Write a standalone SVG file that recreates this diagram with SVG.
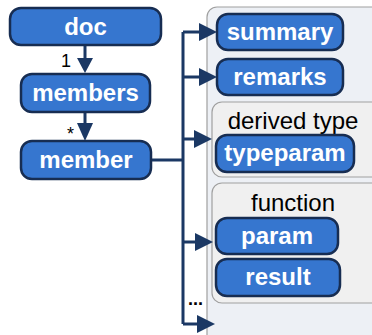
<svg xmlns="http://www.w3.org/2000/svg" width="372" height="335" viewBox="0 0 372 335">
<defs>
<style>
.n{fill:#3676cf;stroke:#172d52;stroke-width:2.5}
.t{font-family:"Liberation Sans",Arial,sans-serif;font-weight:bold;font-size:24px;fill:#fff;text-anchor:middle}
.g{fill:#f0f0f0;stroke:#a0a0a0;stroke-width:1.2}
.gt{font-family:"Liberation Sans",Arial,sans-serif;font-size:24px;fill:#000;text-anchor:middle}
.c{fill:none;stroke:#1b3864;stroke-width:3}
.l{font-family:"Liberation Sans",Arial,sans-serif;font-size:18px;fill:#000}
</style>
</defs>
<rect x="207" y="7" width="180" height="340" rx="10" fill="#edf0f5" stroke="#a0a0a0" stroke-width="1.2"/>
<g id="grp-derived"><rect class="g" x="212" y="102" width="170" height="75" rx="10"/><text class="gt" x="293" y="129">derived type</text></g>
<g id="grp-function"><rect class="g" x="212" y="183" width="170" height="120" rx="10"/><text class="gt" x="293" y="211">function</text></g>
<g id="connectors">
<path class="c" d="M85,45V60"/>
<path d="M77,58L85,73L93,58z" fill="#1b3864"/>
<path class="c" d="M85,113V125"/>
<path d="M77,123L85,141L93,123z" fill="#1b3864"/>
<path class="c" d="M151,160H183M183,32V324M183,32H202M183,77H202M183,139H198M183,242H198M183,324H200"/>
<path d="M199,23L217,32L199,41z" fill="#1b3864"/>
<path d="M199,68L217,77L199,86z" fill="#1b3864"/>
<path d="M194,130L212,139L194,148z" fill="#1b3864"/>
<path d="M195,233L213,242L195,251z" fill="#1b3864"/>
<path d="M197,315L215,324L197,333z" fill="#1b3864"/>
<text class="l" x="61" y="67">1</text>
<text class="l" x="67" y="140">*</text>
<text class="l" x="188" y="305" font-weight="bold" font-size="22">...</text>
</g>
<g id="doc"><rect class="n" x="10" y="8" width="151" height="37" rx="11"/><text class="t" x="85.5" y="35">doc</text></g>
<g id="members"><rect class="n" x="21" y="74" width="129" height="38" rx="11"/><text class="t" x="85.5" y="101">members</text></g>
<g id="member"><rect class="n" x="21" y="141" width="130" height="38" rx="11"/><text class="t" x="86" y="168">member</text></g>
<g id="summary"><rect class="n" x="217" y="14" width="126" height="36" rx="11"/><text class="t" x="280" y="40">summary</text></g>
<g id="remarks"><rect class="n" x="217" y="59" width="126" height="36" rx="11"/><text class="t" x="280" y="85">remarks</text></g>
<g id="typeparam"><rect class="n" x="216" y="135" width="138" height="37" rx="11"/><text class="t" x="285" y="161">typeparam</text></g>
<g id="param"><rect class="n" x="216" y="218" width="122" height="36" rx="11"/><text class="t" x="277" y="244">param</text></g>
<g id="result"><rect class="n" x="216" y="259" width="124" height="37" rx="11"/><text class="t" x="278" y="285">result</text></g>
</svg>
